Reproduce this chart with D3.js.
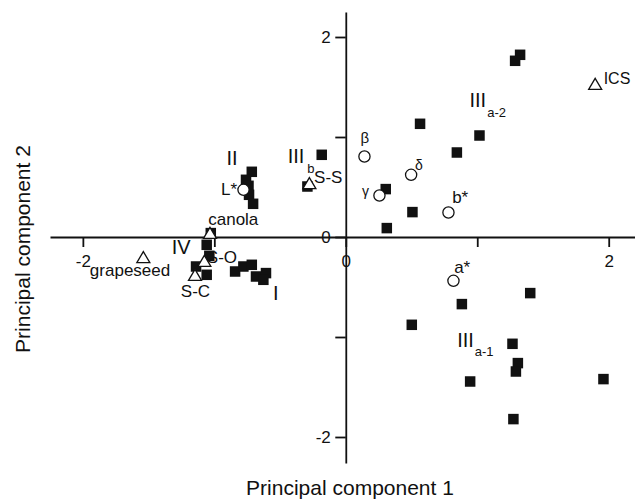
<!DOCTYPE html>
<html>
<head>
<meta charset="utf-8">
<script src="https://cdnjs.cloudflare.com/ajax/libs/d3/7.8.5/d3.min.js"></script>
<style>
    body { margin: 0; background: #fff; }
    svg { display: block; font-family: "Liberation Sans", Arial, sans-serif; }
    .axis path, .axis line { stroke: #111; stroke-width: 1.8; }
    .axis text { font-size: 17px; fill: #111; font-family: "Liberation Sans", Arial, sans-serif; }
    .label { fill: #111; }
</style>
</head>
<body>
<div id="chart"></div>
<script>

// filled squares: oil samples [PC1, PC2]
const samples = [
    [1.326, 1.822], [1.288, 1.762], [0.565, 1.132], [1.017, 1.015], [0.845, 0.845],
    [-0.183, 0.822], [0.304, 0.479], [-0.292, 0.505], [0.507, 0.249], [0.312, 0.089],
    [0.883, -0.671], [1.403, -0.561], [0.502, -0.878], [1.268, -1.068], [1.309, -1.261],
    [1.294, -1.345], [0.946, -1.445], [1.960, -1.421], [1.275, -1.821],
    [-0.715, 0.652], [-0.759, 0.572], [-0.740, 0.512], [-0.736, 0.422], [-0.705, 0.332],
    [-1.027, 0.039], [-1.058, -0.078], [-1.038, -0.188], [-1.139, -0.295], [-1.058, -0.378],
    [-0.842, -0.345], [-0.779, -0.295], [-0.715, -0.278], [-0.683, -0.395], [-0.607, -0.361],
    [-0.627, -0.428]
];

// open circles: tocopherol standards
const standardNames = ["β", "δ", "γ", "b*", "a*", "L*"];
const standardPC1 = [0.142, 0.497, 0.256, 0.781, 0.819, -0.778];
const standardPC2 = [0.805, 0.622, 0.415, 0.245, -0.438, 0.472];

// open triangles: reference oils
const oilNames = ["ICS", "S-S", "canola", "S-O", "S-C", "grapeseed"];
const oilPC1 = [1.897, -0.277, -1.033, -1.076, -1.147, -1.540];
const oilPC2 = [1.532, 0.539, 0.042, -0.238, -0.378, -0.201];

// cluster labels (roman numeral + subscript)
const groupNames = ["II", "III", "III", "III", "IV", "I"];
const groupSubs = ["", "b", "a-2", "a-1", "", ""];
const groupPC1 = [-0.865, -0.442, 0.941, 0.847, -1.252, -0.533];
const groupPC2 = [0.722, 0.739, 1.299, -1.095, -0.171, -0.628];

const tickValues = [-2, -1, 0, 1, 2];
const tickLabels = [-2, 0, 2];

// where each point label sits relative to its marker (px)
const labelLayout = {
    "ICS": { dx: 8.5, dy: 0, anchor: "start", size: 16 },
    "S-S": { dx: 4.7, dy: 0.2, anchor: "start", size: 17 },
    "canola": { dx: 23.3, dy: -8, anchor: "middle", size: 17 },
    "S-O": { dx: 2.5, dy: 2.3, anchor: "start", size: 17 },
    "S-C": { dx: 0.5, dy: 21.7, anchor: "middle", size: 17 },
    "grapeseed": { dx: -13.3, dy: 18.7, anchor: "middle", size: 17 },
    "L*": { dx: -22.5, dy: 5, anchor: "start", size: 17 },
    "β": { dx: 0.4, dy: -13.2, anchor: "middle", size: 15 },
    "δ": { dx: 7.8, dy: -5, anchor: "middle", size: 14 },
    "γ": { dx: -14, dy: 0, anchor: "middle", size: 14 },
    "b*": { dx: 3.7, dy: -9.4, anchor: "start", size: 17 },
    "a*": { dx: 0.7, dy: -8.3, anchor: "start", size: 17 }
};

let width = 635, height = 499;

let svg = d3.select("#chart").append("svg")
    .attr("width", width)
    .attr("height", height);

// Scales
let x = d3.scaleLinear()
    .domain([-2.25, 2.2])
    .range([50, 635]);

let y = d3.scaleLinear()
    .domain([-2.26, 2.25])
    .range([463, 12]);

let fmt = d => tickLabels.includes(d) ? String(d) : "";

// Axes crossing at the origin
let xAxis = d3.axisBottom(x)
    .tickValues(tickValues)
    .tickSize(10)
    .tickSizeOuter(0)
    .tickPadding(8)
    .tickFormat(fmt);

let yAxis = d3.axisLeft(y)
    .tickValues(tickValues)
    .tickSize(10.5)
    .tickSizeOuter(0)
    .tickPadding(4.5)
    .tickFormat(fmt);

svg.append("g")
    .attr("class", "x-axis axis")
    .attr("transform", "translate(0," + y(0) + ")")
    .call(xAxis);

svg.append("g")
    .attr("class", "y-axis axis")
    .attr("transform", "translate(" + x(0) + ",0)")
    .call(yAxis);

// Axis titles
svg.append("text")
    .attr("class", "label")
    .attr("x", 350)
    .attr("y", 495)
    .attr("text-anchor", "middle")
    .style("font-size", "21px")
    .text("Principal component 1");

svg.append("text")
    .attr("class", "label")
    .attr("transform", "translate(30,249) rotate(-90)")
    .attr("text-anchor", "middle")
    .style("font-size", "21px")
    .text("Principal component 2");

// samples
svg.selectAll(".sample")
    .data(samples)
    .enter()
    .append("rect").attr("class", "sample")
    .attr("x", d => x(d[0]) - 5.25)
    .attr("y", d => y(d[1]) - 5.25)
    .attr("width", 10.5)
    .attr("height", 10.5)
    .style("fill", "#111");

let standards = standardNames.map((n, i) => ({ name: n, pc1: standardPC1[i], pc2: standardPC2[i] }));
let oils = oilNames.map((n, i) => ({ name: n, pc1: oilPC1[i], pc2: oilPC2[i] }));

svg.selectAll(".standard")
    .data(standards)
    .enter()
    .append("circle").attr("class", "standard")
    .attr("cx", d => x(d.pc1))
    .attr("cy", d => y(d.pc2))
    .attr("r", 5.6)
    .style("fill", "#fff")
    .style("stroke", "#111")
    .style("stroke-width", 1.3);

svg.selectAll(".oil")
    .data(oils)
    .enter()
    .append("path").attr("class", "oil")
    .attr("d", "M0,-5.5L6.5,5.5L-6.5,5.5Z")
    .attr("transform", d => "translate(" + x(d.pc1) + "," + y(d.pc2) + ")")
    .style("fill", "#fff")
    .style("stroke", "#111")
    .style("stroke-width", 1.3)
    .style("stroke-linejoin", "miter");

// point labels (on top of markers)
svg.selectAll(".point-label")
    .data(standards.concat(oils))
    .enter()
    .append("text").attr("class", "label point-label")
    .attr("x", d => x(d.pc1) + labelLayout[d.name].dx)
    .attr("y", d => y(d.pc2) + labelLayout[d.name].dy)
    .attr("text-anchor", d => labelLayout[d.name].anchor)
    .style("font-size", d => labelLayout[d.name].size + "px")
    .text(d => d.name);

// cluster labels
let groups = svg.selectAll(".group-label")
    .data(groupNames.map((n, i) => ({ name: n, sub: groupSubs[i], pc1: groupPC1[i], pc2: groupPC2[i] })))
    .enter()
    .append("text").attr("class", "label group-label")
    .attr("x", d => x(d.pc1))
    .attr("y", d => y(d.pc2))
    .attr("text-anchor", d => d.sub ? "start" : "middle")
    .style("font-size", "20px");

groups.append("tspan").text(d => d.name);
groups.filter(d => d.sub)
    .append("tspan")
    .attr("dx", d => d.sub === "b" ? 3 : 1)
    .attr("dy", 9.4)
    .style("font-size", "13px")
    .text(d => d.sub);

</script>
</body>
</html>
